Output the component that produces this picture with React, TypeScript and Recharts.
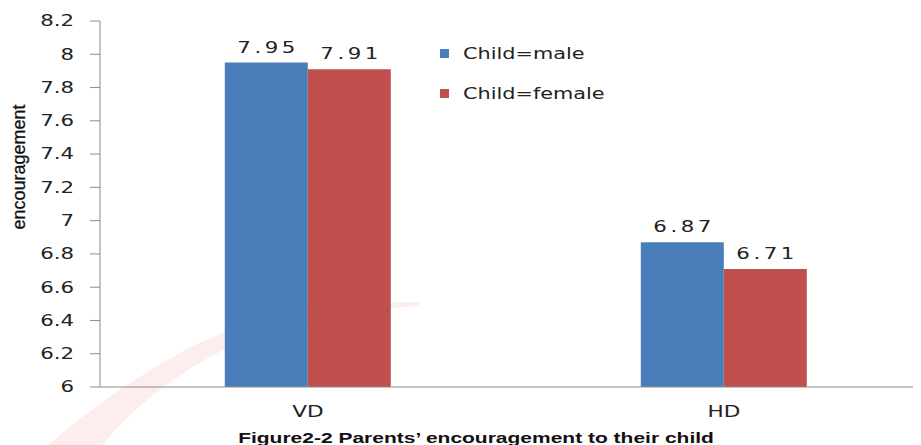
import React from 'react';
import { BarChart, Bar, XAxis, YAxis, Legend, LabelList, Customized } from 'recharts';

const categories = ['VD', 'HD'];
const maleValues = [7.95, 6.87];
const femaleValues = [7.91, 6.71];
const yTicks = [6, 6.2, 6.4, 6.6, 6.8, 7, 7.2, 7.4, 7.6, 7.8, 8, 8.2];
const seriesNames = ['Child=male', 'Child=female'];
const seriesColors = ['#4A7EBB', '#C0504D'];
const titleText = 'Figure2-2 Parents\u2019 encouragement to their child';
const yLabelText = 'encouragement';

const data = categories.map((c, i) => ({ name: c, male: maleValues[i], female: femaleValues[i] }));

const NUM_FONT = "'DejaVu Sans', Verdana, sans-serif";
const SX = 1.42;

const YTick = (props: any) => {
  const { x, y, payload } = props;
  return (
    <text transform={`translate(${x} ${y}) scale(${SX} 1)`} x={0} y={0} dy="0.36em" textAnchor="end" fontFamily={NUM_FONT} fontSize={15} fill="#222">
      {payload.value}
    </text>
  );
};

const XTick = (props: any) => {
  const { x, y, payload } = props;
  return (
    <text transform={`translate(${x} ${y + 30}) scale(1.35 1)`} x={0} y={0} textAnchor="middle" fontFamily={NUM_FONT} fontSize={16} fill="#222">
      {payload.value}
    </text>
  );
};

const ValueLabel = (props: any) => {
  const { x, y, width, value } = props;
  return (
    <text transform={`translate(${x + width / 2} ${y - 10}) scale(${SX} 1)`} x={1.25} y={0} textAnchor="middle" fontFamily={NUM_FONT} fontSize={15} letterSpacing={2.5} fill="#222">
      {value.toFixed(2)}
    </text>
  );
};

const LegendContent = () => (
  <div style={{ fontFamily: NUM_FONT, fontSize: 16, color: '#222' }}>
    {seriesNames.map((n, i) => (
      <div key={n} style={{ height: 40, display: 'flex', alignItems: 'center', whiteSpace: 'nowrap' }}>
        <span style={{ display: 'inline-block', width: 9, height: 9, background: seriesColors[i], marginRight: 14 }} />
        <span style={{ display: 'inline-block', transform: 'scaleX(1.3)', transformOrigin: 'left center' }}>{n}</span>
      </div>
    ))}
  </div>
);

const Swoosh = () => (
  <path
    d="M40 437 C 95 390, 165 342, 232 318 C 292 299, 362 293, 412 294 L 410 298 C 352 301, 292 311, 242 330 C 182 354, 125 398, 95 437 Z"
    fill="#fdeeee"
  />
);

const Title = () => (
  <text transform="translate(468 435) scale(1.4 1)" x={0} y={0} textAnchor="middle" fontFamily="'Liberation Sans', Arial, sans-serif" fontWeight="bold" fontSize={15} fill="#111">
    {titleText}
  </text>
);

const YLabel = () => (
  <text x={17} y={159} transform="rotate(-90 17 159)" textAnchor="middle" fontFamily="'Liberation Sans', Arial, sans-serif" fontSize={18} fill="#111" stroke="#111" strokeWidth={0.3}>
    {yLabelText}
  </text>
);

export default function App() {
  return (
    <div style={{ width: 913, height: 437, overflow: 'hidden', background: '#fff' }}>
      <BarChart
        width={924}
        height={437}
        data={data}
        margin={{ top: 13, right: 0, bottom: 0, left: 0 }}
        barCategoryGap="30%"
        barGap={0}
      >
        <Customized component={Swoosh} />
        <YAxis
          width={92}
          domain={[6, 8.2]}
          ticks={yTicks}
          interval={0}
          tickSize={10}
          tickMargin={16}
          tick={<YTick />}
          axisLine={{ stroke: '#8c8c8c' }}
          tickLine={{ stroke: '#8c8c8c' }}
        />
        <XAxis
          dataKey="name"
          height={58}
          tickSize={0}
          tickMargin={0}
          tickLine={false}
          tick={<XTick />}
          axisLine={{ stroke: '#8c8c8c' }}
        />
        <Legend
          content={<LegendContent />}
          wrapperStyle={{ position: 'absolute', left: 432, top: 25, width: 200, height: 0, overflow: 'visible' }}
        />
        <Bar dataKey="male" name={seriesNames[0]} fill={seriesColors[0]} isAnimationActive={false}>
          <LabelList dataKey="male" content={<ValueLabel />} />
        </Bar>
        <Bar dataKey="female" name={seriesNames[1]} fill={seriesColors[1]} isAnimationActive={false}>
          <LabelList dataKey="female" content={<ValueLabel />} />
        </Bar>
        <Customized component={YLabel} />
        <Customized component={Title} />
      </BarChart>
    </div>
  );
}
